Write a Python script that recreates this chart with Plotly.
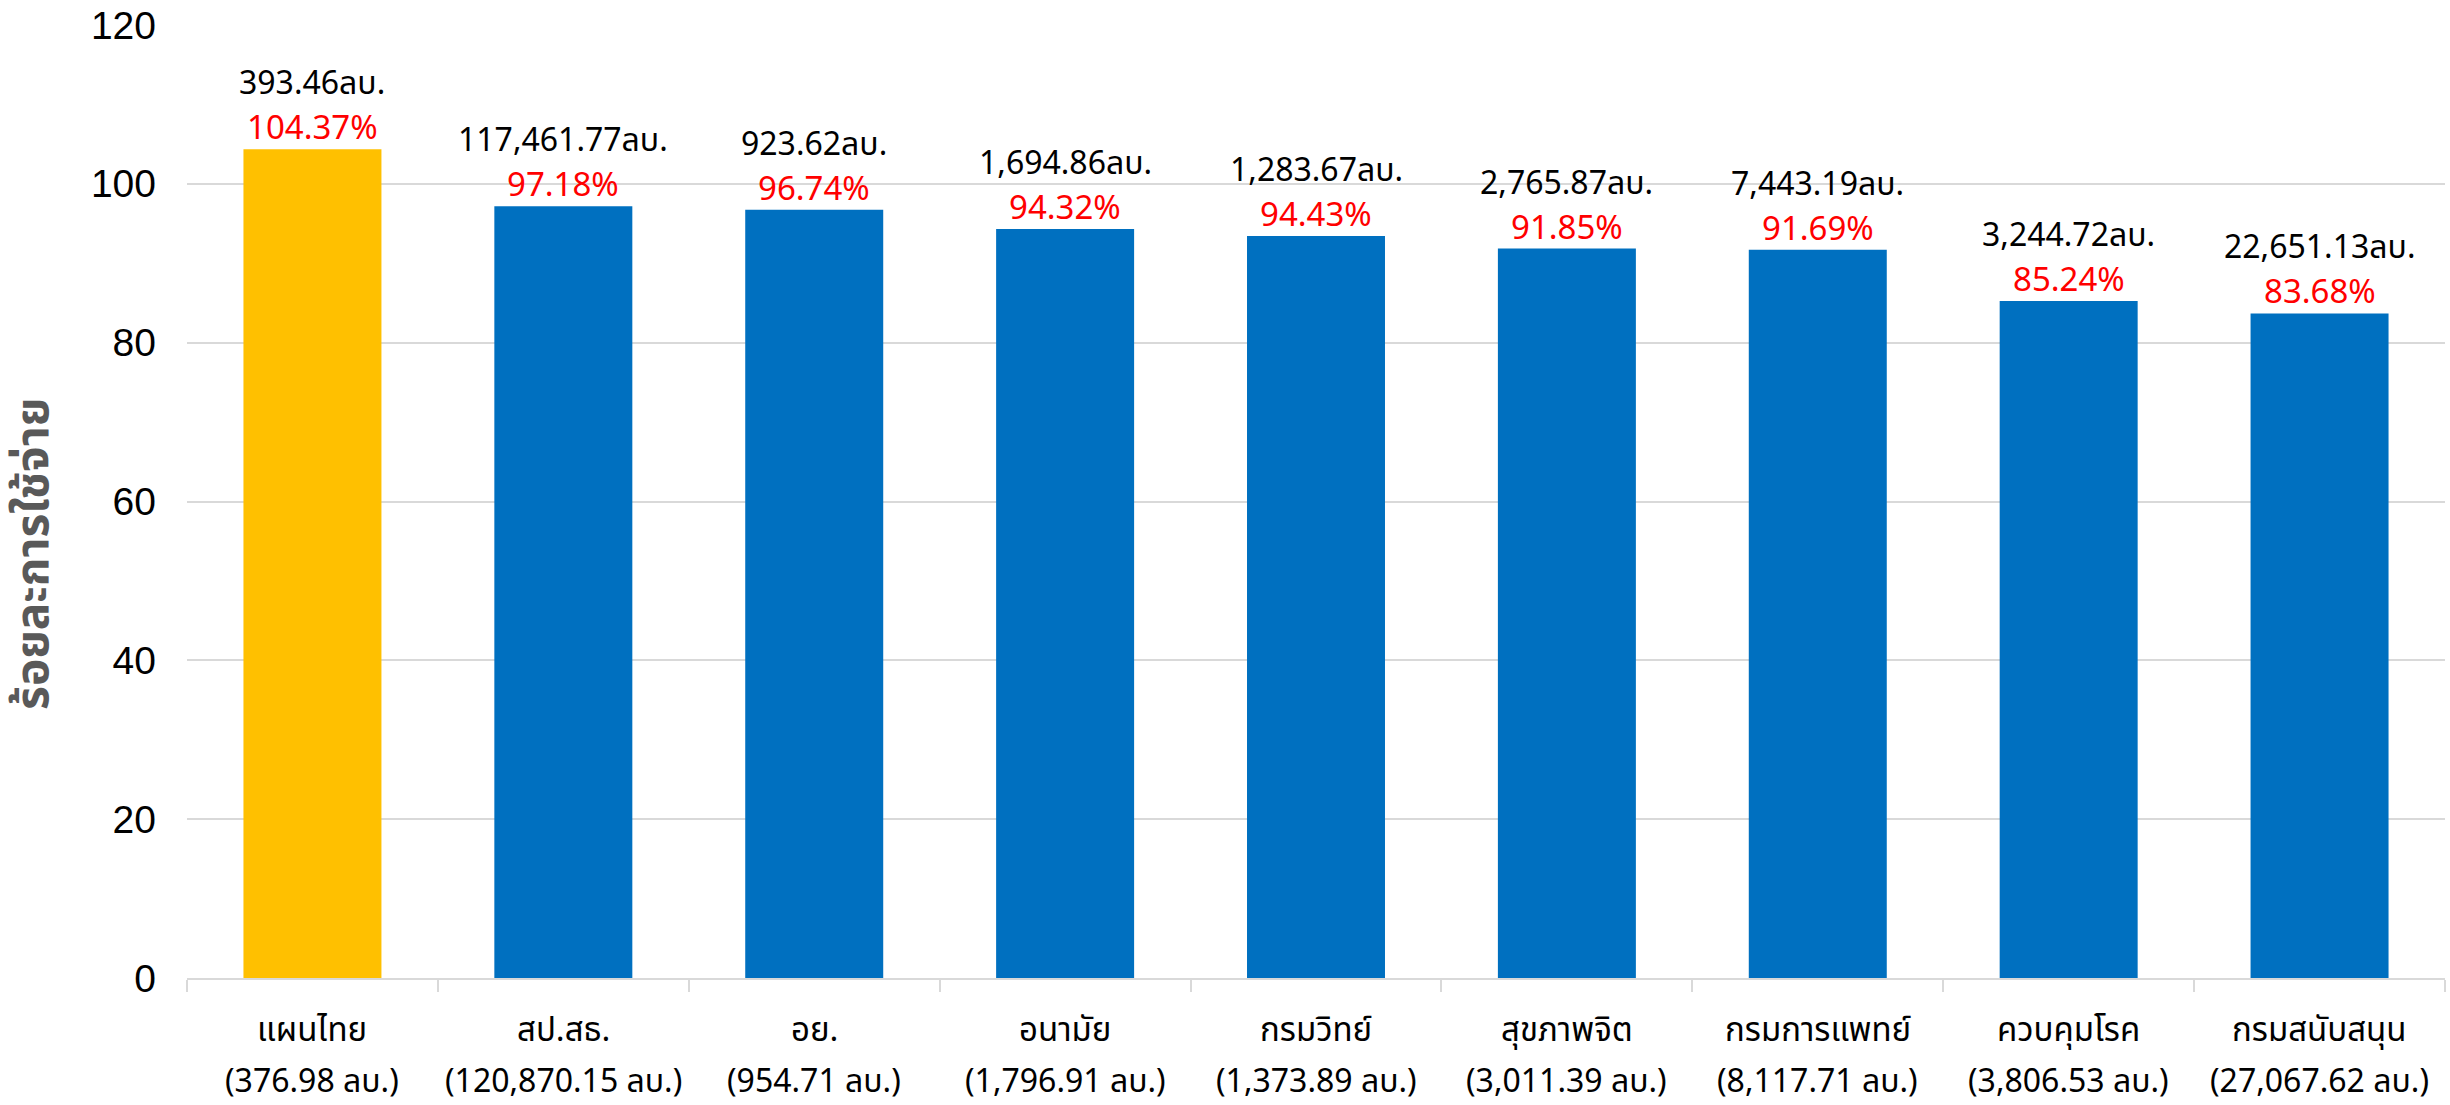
import plotly.graph_objects as go

categories = ["แผนไทย", "สป.สธ.", "อย.", "อนามัย", "กรมวิทย์", "สุขภาพจิต", "กรมการแพทย์", "ควบคุมโรค", "กรมสนับสนุน"]
budget_labels = ["376.98", "120,870.15", "954.71", "1,796.91", "1,373.89", "3,011.39", "8,117.71", "3,806.53", "27,067.62"]
spent_labels = ["393.46", "117,461.77", "923.62", "1,694.86", "1,283.67", "2,765.87", "7,443.19", "3,244.72", "22,651.13"]
pct_labels = ["104.37%", "97.18%", "96.74%", "94.32%", "94.43%", "91.85%", "91.69%", "85.24%", "83.68%"]
bar_values = [104.37, 97.18, 96.74, 94.32, 93.43, 91.85, 91.69, 85.24, 83.68]
bar_colors = ["#FFC000"] + ["#0070C0"] * 8
y_ticks = [0, 20, 40, 60, 80, 100, 120]

THAI = "Noto Sans Thai, Noto Sans Thai UI, Noto Sans, Liberation Sans, sans-serif"

fig = go.Figure(go.Bar(
    x=categories, y=bar_values, marker=dict(color=bar_colors, line=dict(width=0)),
    width=0.55, hoverinfo="skip"))

for c, v, p, s in zip(categories, bar_values, pct_labels, spent_labels):
    fig.add_annotation(x=c, y=v, text=p, showarrow=False, yanchor="bottom", borderpad=0,
                       yshift=-6, font=dict(family=THAI, size=33, color="#FF0000"))
    fig.add_annotation(x=c, y=v, text=s + "ลบ.", showarrow=False, yanchor="bottom", borderpad=0,
                       yshift=40, font=dict(family=THAI, size=32, color="#000000"))

for c, b in zip(categories, budget_labels):
    fig.add_annotation(x=c, yref="paper", y=0, text=c, showarrow=False, yanchor="middle",
                       yshift=-53, borderpad=0, font=dict(family=THAI, size=33, color="#000000"))
    fig.add_annotation(x=c, yref="paper", y=0, text=f"({b} ลบ.)", showarrow=False,
                       yanchor="middle", yshift=-104, borderpad=0,
                       font=dict(family=THAI, size=32, color="#000000"))

fig.add_annotation(xref="paper", yref="paper", x=0, y=0.445, xshift=-153, textangle=-90,
                   text="<b>ร้อยละการใช้จ่าย</b>", showarrow=False, xanchor="center", yanchor="middle",
                   font=dict(family=THAI, size=46, color="#595959"))

fig.update_layout(
    width=2450, height=1105, plot_bgcolor="white", paper_bgcolor="white",
    margin=dict(l=187, r=5, t=25, b=127, autoexpand=False), showlegend=False,
    xaxis=dict(tickmode="array", tickvals=categories, showticklabels=False,
               showline=True, linecolor="#D9D9D9", linewidth=2, automargin=False,
               ticks="outside", tickson="boundaries", ticklen=12, tickcolor="#D9D9D9",
               tickwidth=2, showgrid=False),
    yaxis=dict(range=[0, 120], tickvals=y_ticks, showgrid=True, gridcolor="#D9D9D9",
               gridwidth=2, zeroline=False, showline=False, automargin=False,
               tickfont=dict(family="Liberation Sans, Arial, sans-serif", size=39, color="#000000"),
               ticklabelstandoff=30),
)

fig.write_html("out.html", config={"displayModeBar": False},
               post_script="document.body.style.margin='0';document.body.style.overflow='hidden';")
